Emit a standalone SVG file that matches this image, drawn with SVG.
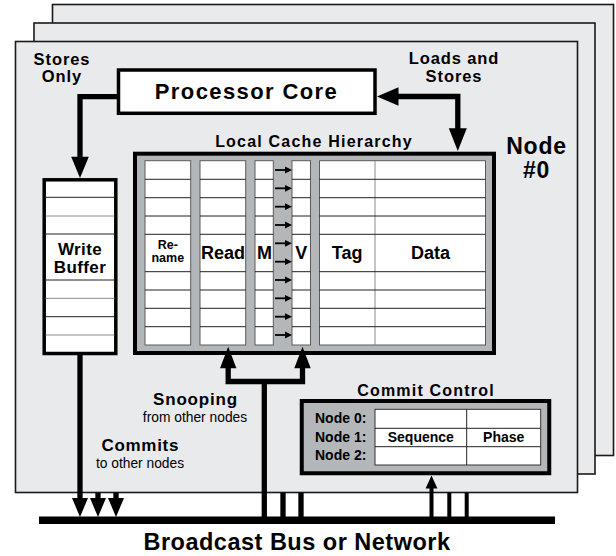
<svg xmlns="http://www.w3.org/2000/svg" xmlns:xlink="http://www.w3.org/1999/xlink" width="616" height="556" viewBox="0 0 616 556">
<style>
.pane{fill:#e9eaec;stroke:#1a1a1a;stroke-width:1.6}
.box{fill:#ffffff;stroke:#000;stroke-width:3.5}
.gbox{fill:#b4b7ba;stroke:#000;stroke-width:4}
.col{fill:#fff;stroke:#5a5a5a;stroke-width:1}
.rl{stroke:#222;stroke-width:1}
.rg{stroke:#8a8a8a;stroke-width:1}
.thick{fill:none;stroke:#000;stroke-width:5.3}
.mid{fill:none;stroke:#000;stroke-width:4}
.head{fill:#000}
text{font-family:"Liberation Sans",Arial,Helvetica,sans-serif;fill:#000}
.b{font-weight:bold}
</style>
<defs>
<g id="sa"><line x1="275" y1="0" x2="286" y2="0" stroke="#000" stroke-width="1.8"/><polygon points="285,-3.4 292,0 285,3.4" fill="#000"/></g>
</defs>

<g id="panes">
<rect class="pane" x="52.5" y="4.5" width="561" height="451"/>
<rect class="pane" x="34" y="23" width="561" height="451"/>
<rect class="pane" x="15.5" y="41.5" width="562" height="451"/>
</g>

<g id="node-label">
<text class="b" x="536.5" y="154.3" font-size="23" letter-spacing="0.8" text-anchor="middle">Node</text>
<text class="b" x="536.5" y="178.3" font-size="23" letter-spacing="0.8" text-anchor="middle">#0</text>
</g>

<g id="processor-core">
<rect class="box" x="118.5" y="70" width="256.5" height="43.3"/>
<text class="b" x="246.5" y="99.3" font-size="22" letter-spacing="1.4" text-anchor="middle">Processor Core</text>
</g>

<g id="write-buffer">
<rect class="box" x="44.2" y="179.8" width="71.6" height="173.7" stroke-width="3"/>
<line class="rl" x1="45.7" y1="197.3" x2="114.3" y2="197.3"/>
<line class="rg" x1="45.7" y1="216" x2="114.3" y2="216"/>
<line class="rl" x1="45.7" y1="234" x2="114.3" y2="234"/>
<line class="rl" x1="45.7" y1="280" x2="114.3" y2="280"/>
<line class="rg" x1="45.7" y1="298.3" x2="114.3" y2="298.3"/>
<line class="rl" x1="45.7" y1="316.7" x2="114.3" y2="316.7"/>
<line class="rg" x1="45.7" y1="335" x2="114.3" y2="335"/>
<text class="b" x="80" y="255" font-size="17" letter-spacing="0.4" text-anchor="middle">Write</text>
<text class="b" x="80" y="273.3" font-size="17" letter-spacing="0.4" text-anchor="middle">Buffer</text>
</g>

<g id="local-cache">
<text class="b" x="314" y="147" font-size="16" letter-spacing="1.2" text-anchor="middle">Local Cache Hierarchy</text>
<rect class="gbox" x="135" y="153.7" width="359" height="199.3"/>
<rect class="col" x="145" y="160.7" width="45.7" height="184.3"/>
<rect class="col" x="200" y="160.7" width="45.7" height="184.3"/>
<rect class="col" x="255" y="160.7" width="18.3" height="184.3"/>
<rect class="col" x="292" y="160.7" width="18.5" height="184.3"/>
<rect class="col" x="319.5" y="160.7" width="166" height="184.3"/>
<line class="rg" x1="375" y1="160.7" x2="375" y2="345"/>
<g class="rl">
<line x1="145" y1="179.3" x2="190.7" y2="179.3"/><line x1="200" y1="179.3" x2="245.7" y2="179.3"/><line x1="255" y1="179.3" x2="273.3" y2="179.3"/><line x1="292" y1="179.3" x2="310.5" y2="179.3"/><line x1="319.5" y1="179.3" x2="485.5" y2="179.3"/>
<line x1="145" y1="197.7" x2="190.7" y2="197.7"/><line x1="200" y1="197.7" x2="245.7" y2="197.7"/><line x1="255" y1="197.7" x2="273.3" y2="197.7"/><line x1="292" y1="197.7" x2="310.5" y2="197.7"/><line x1="319.5" y1="197.7" x2="485.5" y2="197.7"/>
<line x1="145" y1="216" x2="190.7" y2="216"/><line x1="200" y1="216" x2="245.7" y2="216"/><line x1="255" y1="216" x2="273.3" y2="216"/><line x1="292" y1="216" x2="310.5" y2="216"/><line x1="319.5" y1="216" x2="485.5" y2="216"/>
<line x1="145" y1="234.3" x2="190.7" y2="234.3"/><line x1="200" y1="234.3" x2="245.7" y2="234.3"/><line x1="255" y1="234.3" x2="273.3" y2="234.3"/><line x1="292" y1="234.3" x2="310.5" y2="234.3"/><line x1="319.5" y1="234.3" x2="485.5" y2="234.3"/>
<line x1="145" y1="271.7" x2="190.7" y2="271.7"/><line x1="200" y1="271.7" x2="245.7" y2="271.7"/><line x1="255" y1="271.7" x2="273.3" y2="271.7"/><line x1="292" y1="271.7" x2="310.5" y2="271.7"/><line x1="319.5" y1="271.7" x2="485.5" y2="271.7"/>
<line x1="145" y1="290" x2="190.7" y2="290"/><line x1="200" y1="290" x2="245.7" y2="290"/><line x1="255" y1="290" x2="273.3" y2="290"/><line x1="292" y1="290" x2="310.5" y2="290"/><line x1="319.5" y1="290" x2="485.5" y2="290"/>
<line x1="145" y1="308.3" x2="190.7" y2="308.3"/><line x1="200" y1="308.3" x2="245.7" y2="308.3"/><line x1="255" y1="308.3" x2="273.3" y2="308.3"/><line x1="292" y1="308.3" x2="310.5" y2="308.3"/><line x1="319.5" y1="308.3" x2="485.5" y2="308.3"/>
<line x1="145" y1="326.7" x2="190.7" y2="326.7"/><line x1="200" y1="326.7" x2="245.7" y2="326.7"/><line x1="255" y1="326.7" x2="273.3" y2="326.7"/><line x1="292" y1="326.7" x2="310.5" y2="326.7"/><line x1="319.5" y1="326.7" x2="485.5" y2="326.7"/>
</g>
<use xlink:href="#sa" y="170"/>
<use xlink:href="#sa" y="188.3"/>
<use xlink:href="#sa" y="206.7"/>
<use xlink:href="#sa" y="225"/>
<use xlink:href="#sa" y="243.3"/>
<use xlink:href="#sa" y="261.7"/>
<use xlink:href="#sa" y="280"/>
<use xlink:href="#sa" y="298.3"/>
<use xlink:href="#sa" y="316.7"/>
<use xlink:href="#sa" y="335"/>
<text class="b" x="167.8" y="249.3" font-size="12.5" text-anchor="middle">Re-</text>
<text class="b" x="167.8" y="262" font-size="12.5" text-anchor="middle">name</text>
<text class="b" x="223" y="259.3" font-size="18" text-anchor="middle">Read</text>
<text class="b" x="264.5" y="259.3" font-size="18" text-anchor="middle">M</text>
<text class="b" x="301.3" y="259.3" font-size="18" text-anchor="middle">V</text>
<text class="b" x="347.2" y="259.3" font-size="18" text-anchor="middle">Tag</text>
<text class="b" x="430.5" y="259.3" font-size="18" text-anchor="middle">Data</text>
</g>

<g id="commit-control">
<text class="b" x="426" y="396" font-size="16" letter-spacing="1.2" text-anchor="middle">Commit Control</text>
<rect class="gbox" x="301.75" y="401" width="247.5" height="72.25" stroke-width="3.5"/>
<rect x="375" y="409.3" width="165.7" height="55.7" fill="#fff" stroke="#333" stroke-width="1"/>
<line class="rl" x1="466.7" y1="409.3" x2="466.7" y2="465"/>
<line class="rl" x1="375" y1="428.3" x2="540.7" y2="428.3"/>
<line class="rl" x1="375" y1="446.7" x2="540.7" y2="446.7"/>
<text class="b" x="315" y="423.3" font-size="14">Node 0:</text>
<text class="b" x="315" y="441.7" font-size="14">Node 1:</text>
<text class="b" x="315" y="460" font-size="14">Node 2:</text>
<text class="b" x="420.8" y="441.7" font-size="14" text-anchor="middle">Sequence</text>
<text class="b" x="503.7" y="441.7" font-size="14" text-anchor="middle">Phase</text>
</g>

<g id="bus">
<rect x="39" y="516.5" width="516" height="7.5" fill="#000"/>
<text class="b" x="297" y="550" font-size="23.5" letter-spacing="0.5" text-anchor="middle">Broadcast Bus or Network</text>
</g>

<g id="labels">
<text class="b" x="62" y="65" font-size="16.5" letter-spacing="0.9" text-anchor="middle">Stores</text>
<text class="b" x="62" y="82" font-size="16.5" letter-spacing="0.9" text-anchor="middle">Only</text>
<text class="b" x="454" y="64.3" font-size="16.5" letter-spacing="0.9" text-anchor="middle">Loads and</text>
<text class="b" x="454" y="82.3" font-size="16.5" letter-spacing="0.9" text-anchor="middle">Stores</text>
<text class="b" x="195.5" y="405" font-size="17" letter-spacing="0.8" text-anchor="middle">Snooping</text>
<text x="195" y="421.7" font-size="13.8" text-anchor="middle">from other nodes</text>
<text class="b" x="140.3" y="451" font-size="17" letter-spacing="0.7" text-anchor="middle">Commits</text>
<text x="140" y="467.7" font-size="13.8" text-anchor="middle">to other nodes</text>
</g>

<g id="connectors">
<path class="thick" d="M117,96.7 H80 V158"/>
<polygon class="head" points="71.2,156.7 88.8,156.7 80,178"/>
<path class="thick" d="M397,96.5 H457.8 V130"/>
<polygon class="head" points="377,96.5 398.5,87.3 398.5,105.7"/>
<polygon class="head" points="448.8,128.3 466.8,128.3 457.8,151"/>
<path class="thick" d="M80,355 V500"/>
<path class="thick" d="M98,492.5 V500 M116,492.5 V500"/>
<polygon class="head" points="72,498 88,498 80,517"/>
<polygon class="head" points="90,498 106,498 98,517"/>
<polygon class="head" points="108,498 124,498 116,517"/>
<path class="thick" d="M228.2,367 V381.5 H302.5 V367"/>
<path class="thick" d="M264.3,381.5 V517"/>
<polygon class="head" points="220,368.3 236.4,368.3 228.2,346.7"/>
<polygon class="head" points="294.3,368.3 310.7,368.3 302.5,346.7"/>
<path class="thick" d="M283,492.5 V517 M301,492.5 V517"/>
<path class="mid" d="M449.3,492.5 V517 M466.7,492.5 V517"/>
<path class="mid" d="M431.5,517 V487"/>
<polygon class="head" points="425.6,488.5 437.4,488.5 431.5,475.5"/>
</g>
</svg>
